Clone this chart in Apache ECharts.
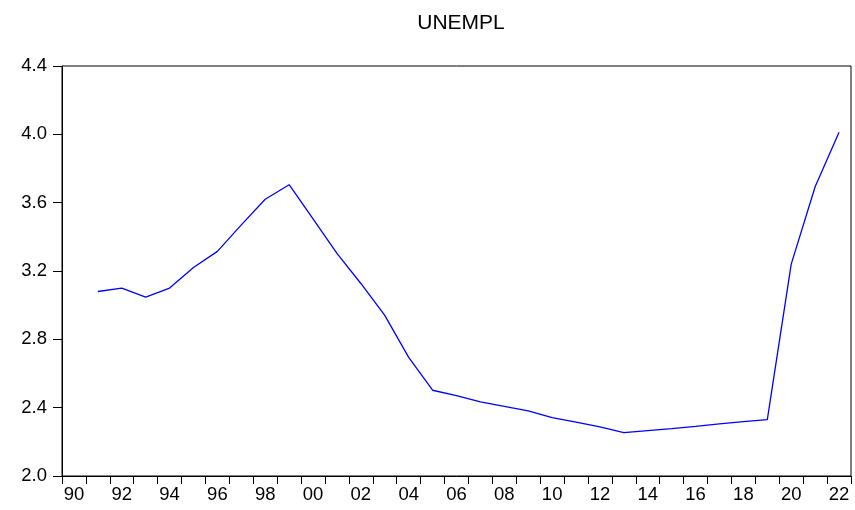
<!DOCTYPE html>
<html>
<head>
    <meta charset="utf-8">
    <script src="https://cdn.jsdelivr.net/npm/echarts@6/dist/echarts.min.js"></script>
    <style type="text/css">
        html, body { width: 100%; height: 100%; margin: 0; background: #fff; }
        #chart_unempl { width: 855px; height: 510px; }
    </style>
</head>
<body>
<div id="chart_unempl"></div>
<script type="text/javascript">
    // years on the axis (1990 has no observation)
    var years = [];
    for (var y = 1990; y <= 2022; y++) years.push(String(y));

    var unempl = [
        null,
        3.08, 3.10, 3.047, 3.10, 3.22, 3.315, 3.47, 3.62, 3.705, 3.505,
        3.303, 3.127, 2.94, 2.694, 2.502, 2.471, 2.434, 2.408, 2.381, 2.342,
        2.315, 2.287, 2.254, 2.266, 2.277, 2.29, 2.305, 2.318, 2.33, 3.24,
        3.693, 4.012
    ];

    var yMin = 2.0, yMax = 4.4, yStep = 0.4;
    var fontName = 'Liberation Sans, Arial, sans-serif';

    var chart = echarts.init(document.getElementById('chart_unempl'));
    chart.setOption({
        animation: false,
        title: {
            text: 'UNEMPL',
            left: 456, top: 8, textAlign: 'center',
            textStyle: { fontFamily: fontName, fontWeight: 'normal', fontSize: 21, color: '#000' }
        },
        grid: {
            left: 62, right: 4, top: 66, bottom: 34,
            show: true, borderColor: '#000', borderWidth: 1, backgroundColor: '#fff'
        },
        xAxis: {
            type: 'category',
            data: years,
            boundaryGap: true,
            axisLine: { lineStyle: { color: '#000', width: 1 } },
            axisTick: { show: true, interval: 0, length: 8, alignWithLabel: false, lineStyle: { color: '#000' } },
            axisLabel: {
                interval: 1, margin: 9, color: '#000', fontSize: 18.5, fontFamily: fontName,
                formatter: function (v) { return v.slice(2); }
            },
            splitLine: { show: false }
        },
        yAxis: {
            type: 'value',
            min: yMin, max: yMax, interval: yStep,
            axisLine: { show: true, lineStyle: { color: '#000', width: 1 } },
            axisTick: { show: true, length: 9, lineStyle: { color: '#000' } },
            axisLabel: {
                margin: 15, color: '#000', fontSize: 18.5, fontFamily: fontName,
                formatter: function (v) { return v.toFixed(1); }
            },
            splitLine: { show: false }
        },
        series: [{
            type: 'line',
            data: unempl,
            symbol: 'none',
            connectNulls: false,
            lineStyle: { color: '#0000ff', width: 1.3 }
        }]
    });
</script>
</body>
</html>
